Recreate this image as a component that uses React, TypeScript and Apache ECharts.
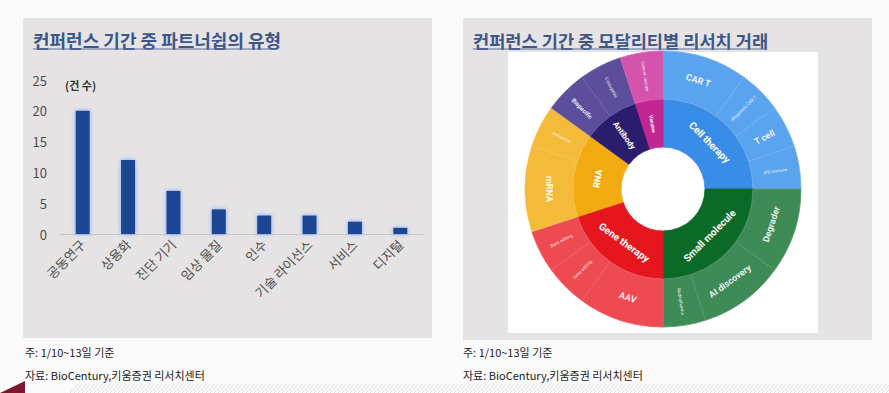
import React, { useEffect, useRef } from "react";
import * as echarts from "echarts";

// ---- Left chart data ----
const partnershipTypes = ["공동연구", "상용화", "진단 기기", "임상 물질", "인수", "기술 라이선스", "서비스", "디지털"];
const partnershipCounts = [20, 12, 7, 4, 3, 3, 2, 1];
const yMin = 0;
const yMax = 25;
const yStep = 5;

// ---- Right chart data ----
const modalities = ["Cell therapy", "Small molecule", "Gene therapy", "RNA", "Antibody", "Vaccine"];
const subtypes = [
  ["CAR T", "Allogeneic CAR T", "T cell", "iPS immune"],
  ["Degrader", "AI discovery", "Radiopharma"],
  ["AAV", "Gene editing", "Base editing"],
  ["mRNA", "Antisense"],
  ["Bispecific", "Conjugates"],
  ["Cancer vaccine"],
];
const subtypeCounts = [
  [2, 1, 1, 1],
  [2, 2, 1],
  [2, 1, 1],
  [2, 1],
  [1, 1],
  [1],
];

// ---- Texts ----
const leftTitle = "컨퍼런스 기간 중 파트너쉽의 유형";
const rightTitle = "컨퍼런스 기간 중 모달리티별 리서치 거래";
const unitLabel = "(건 수)";
const noteText = "주: 1/10~13일 기준";
const sourceText = "자료: BioCentury,키움증권 리서치센터";

// ---- Styles ----
const innerColors = ["#3a8de6", "#0c6a28", "#e5161e", "#f1aa10", "#2b1d6e", "#c32592"];
const outerColors = ["#5aa3ee", "#3e8b57", "#ee4a52", "#f4ba3a", "#5d4e9c", "#d353ad"];
const outerBorders = ["#71b0f0", "#56996b", "#f16068", "#f6c452", "#6f61a8", "#da68b8"];
const radialInner = new Set(["Antibody", "Vaccine"]);
const tangentialOuter = new Set(["CAR T", "Degrader", "AI discovery", "AAV", "mRNA"]);
const tinyOuter = new Set(["Allogeneic CAR T", "iPS immune", "Radiopharma", "Gene editing", "Base editing", "Antisense", "Conjugates", "Cancer vaccine"]);
const innerFont = [10, 10, 10, 9, 8, 5];

const FONT = "'Noto Sans CJK KR', 'Noto Sans', sans-serif";

export default function App() {
  const ref = useRef<HTMLDivElement>(null);

  useEffect(() => {
    if (!ref.current) return;
    const chart = echarts.init(ref.current, null, { renderer: "svg" });

    const sunData = modalities.map((m, i) => ({
      name: m,
      itemStyle: { color: innerColors[i], borderColor: innerColors[i], borderWidth: 0.8 },
      label: {
        rotate: radialInner.has(m) ? "radial" : "tangential",
        fontSize: innerFont[i],
        fontWeight: "bold",
      },
      children: subtypes[i].map((s, j) => ({
        name: s,
        value: subtypeCounts[i][j],
        itemStyle: { color: outerColors[i], borderColor: outerBorders[i], borderWidth: 0.8 },
        label: {
          rotate: tangentialOuter.has(s) ? "tangential" : "radial",
          fontSize: tinyOuter.has(s) ? 4.5 : s === "Bispecific" ? 6 : 9,
          fontWeight: tinyOuter.has(s) ? "normal" : "bold",
          color: "rgba(255,255,255,0.9)",
        },
      })),
    }));

    // hatched band at the bottom
    const hatch: any[] = [];
    for (let x = 70; x < 889; x += 4) {
      hatch.push({
        type: "line",
        shape: { x1: x, y1: 393, x2: x + 8, y2: 384 },
        style: { stroke: "#dedcdc", lineWidth: 1 },
        silent: true,
      });
    }

    const option: any = {
      animation: false,
      backgroundColor: "#fbfafa",
      graphic: [
        { type: "rect", shape: { x: 23, y: 18, width: 409, height: 320 }, style: { fill: "#e6e3e4" }, z: -10 },
        { type: "rect", shape: { x: 463, y: 18, width: 409, height: 322 }, style: { fill: "#e6e3e4" }, z: -10 },
        { type: "rect", shape: { x: 508, y: 52, width: 310, height: 281 }, style: { fill: "#ffffff" }, z: -9 },
        {
          type: "text", x: 33, y: 40,
          style: { text: leftTitle, fill: "#3e5688", font: `bold 18px ${FONT}`, textVerticalAlign: "middle" },
        },
        { type: "line", shape: { x1: 33, y1: 49, x2: 277, y2: 49 }, style: { stroke: "#5a6f9c", lineWidth: 1 } },
        {
          type: "text", x: 473, y: 40,
          style: { text: rightTitle, fill: "#3e5688", font: `bold 17.6px ${FONT}`, textVerticalAlign: "middle" },
        },
        { type: "line", shape: { x1: 473, y1: 49, x2: 767, y2: 49 }, style: { stroke: "#5a6f9c", lineWidth: 1 } },
        {
          type: "text", x: 65, y: 85,
          style: { text: unitLabel, fill: "#333", font: `bold 11px ${FONT}`, textVerticalAlign: "middle" },
        },
        { type: "text", x: 25, y: 352, style: { text: noteText, fill: "#222", font: `11px ${FONT}`, textVerticalAlign: "middle" } },
        { type: "text", x: 25, y: 375, style: { text: sourceText, fill: "#222", font: `11px ${FONT}`, textVerticalAlign: "middle" } },
        { type: "text", x: 463, y: 352, style: { text: noteText, fill: "#222", font: `11px ${FONT}`, textVerticalAlign: "middle" } },
        { type: "text", x: 463, y: 375, style: { text: sourceText, fill: "#222", font: `11px ${FONT}`, textVerticalAlign: "middle" } },
        { type: "polygon", shape: { points: [[0, 393], [25, 381], [25, 393]] }, style: { fill: "#7d1732" } },
        ...hatch,
      ],
      grid: { left: 60, right: 466, top: 80, bottom: 159, containLabel: false },
      xAxis: {
        type: "category",
        data: partnershipTypes,
        axisLine: { lineStyle: { color: "#c9c6c7", width: 1 } },
        axisTick: { show: false },
        axisLabel: { rotate: 45, fontSize: 13, color: "#4d4d4d", fontFamily: FONT, margin: 8, interval: 0 },
      },
      yAxis: {
        type: "value",
        min: yMin,
        max: yMax,
        interval: yStep,
        axisLine: { show: false },
        axisTick: { show: false },
        splitLine: { show: false },
        axisLabel: { fontSize: 13, color: "#4d4d4d", fontFamily: FONT, margin: 13 },
      },
      series: [
        {
          type: "bar",
          data: partnershipCounts,
          barWidth: 14,
          itemStyle: { color: "#1f4494", shadowBlur: 4, shadowColor: "rgba(90,150,255,0.8)" },
          silent: true,
        },
        {
          type: "sunburst",
          center: [663, 189],
          radius: [42, 138],
          sort: null,
          nodeClick: false,
          data: sunData,
          label: { color: "#fff", fontFamily: "Roboto, sans-serif", overflow: "none" },
          levels: [
            {},
            { r0: 42, r: 90 },
            { r0: 90, r: 138 },
          ],
          emphasis: { disabled: true },
        },
      ],
    };

    chart.setOption(option);
    return () => chart.dispose();
  }, []);

  return (
    <div
      ref={ref}
      style={{ position: "fixed", left: 0, top: 0, width: 889, height: 393 }}
    />
  );
}
